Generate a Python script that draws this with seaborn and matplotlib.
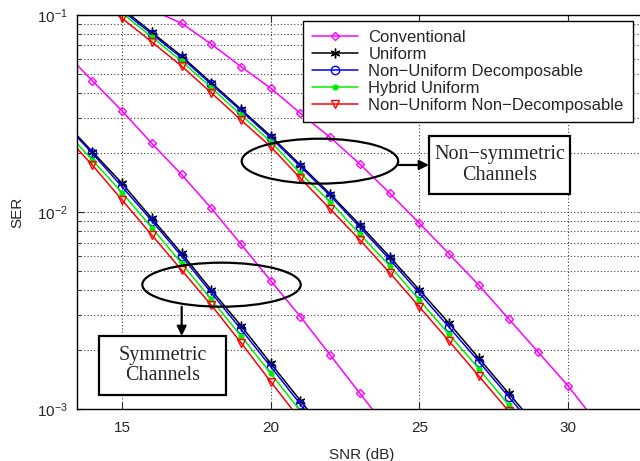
import matplotlib
matplotlib.use("Agg")
import matplotlib.pyplot as plt
import seaborn as sns
from matplotlib.patches import Ellipse, Rectangle
from matplotlib.ticker import NullLocator, LogLocator

# ---- data (SER vs SNR) ----
snr_conv_sym = [13, 14, 15, 16, 17, 18, 19, 20, 21, 22, 23, 24]
conv_sym = [0.0664, 0.0464, 0.0326, 0.0223, 0.0155, 0.01045, 0.00686,
            0.00448, 0.00294, 0.00188, 0.00120, 0.00077]

snr_conv_nonsym = [16, 17, 18, 19, 20, 21, 22, 23, 24, 25, 26, 27, 28, 29, 30, 31]
conv_nonsym = [0.106, 0.0908, 0.0712, 0.0547, 0.0425, 0.0317, 0.0239, 0.0175,
               0.01245, 0.00877, 0.00612, 0.00425, 0.00287, 0.00194, 0.00131, 0.00084]

snr_sym = [13, 14, 15, 16, 17, 18, 19, 20, 21, 22]
uni_sym = [0.0293, 0.02024, 0.01398, 0.00929, 0.00617, 0.00402, 0.00265, 0.001706, 0.001102, 0.000713]
nud_sym = [0.0288, 0.01986, 0.01344, 0.00903, 0.00598, 0.00389, 0.00254, 0.00164, 0.001057, 0.00068]
hyb_sym = [0.0267, 0.01836, 0.01253, 0.00832, 0.00549, 0.00360, 0.002348, 0.001518, 0.000977, 0.00063]
nund_sym = [0.0252, 0.01732, 0.01151, 0.00764, 0.00508, 0.00337, 0.00217, 0.001376, 0.00088, 0.00056]

snr_nonsym = [14, 15, 16, 17, 18, 19, 20, 21, 22, 23, 24, 25, 26, 27, 28, 29]
uni_nonsym = [0.125, 0.1079, 0.0817, 0.0619, 0.0453, 0.03321, 0.02431, 0.01732, 0.01234,
              0.00859, 0.00593, 0.00402, 0.00272, 0.00181, 0.001202, 0.000801]
nud_nonsym = [0.123, 0.1054, 0.0801, 0.0607, 0.0445, 0.03267, 0.02383, 0.01698, 0.01210,
              0.00836, 0.00575, 0.00387, 0.00260, 0.00174, 0.001155, 0.000764]
hyb_nonsym = [0.121, 0.1023, 0.0773, 0.0584, 0.0428, 0.0311, 0.02275, 0.01572, 0.01128,
              0.00770, 0.00534, 0.00357, 0.00239, 0.00160, 0.001048, 0.000688]
nund_nonsym = [0.126, 0.0962, 0.0730, 0.0551, 0.0403, 0.0293, 0.02146, 0.01483, 0.01036,
               0.00721, 0.00492, 0.00330, 0.00221, 0.00147, 0.000977, 0.00065]

sns.set_style("ticks")
plt.rcParams["font.family"] = ["Liberation Sans", "DejaVu Sans"]

fig = plt.figure(figsize=(6.4, 4.61), dpi=100)
ax = fig.add_axes([0.1203, 0.1128, 0.889, 0.8547])

styles = [
    ("Conventional", "#ff00ff", "D", 4.5, "none", [(snr_conv_sym, conv_sym), (snr_conv_nonsym, conv_nonsym)]),
    ("Uniform", "black", (6, 2, 0), 7, "black", [(snr_sym, uni_sym), (snr_nonsym, uni_nonsym)]),
    ("Non\u2212Uniform Decomposable", "#0000ff", "o", 6, "none", [(snr_sym, nud_sym), (snr_nonsym, nud_nonsym)]),
    ("Hybrid Uniform", "#00f000", "o", 3.5, "#00f000", [(snr_sym, hyb_sym), (snr_nonsym, hyb_nonsym)]),
    ("Non\u2212Uniform Non\u2212Decomposable", "#ff0000", "v", 6, "none", [(snr_sym, nund_sym), (snr_nonsym, nund_nonsym)]),
]

handles = []
for name, col, mk, ms, mfc, curves in styles:
    for i, (xs, ys) in enumerate(curves):
        sns.lineplot(x=xs, y=ys, ax=ax, color=col, marker=mk, markersize=ms,
                     mfc=mfc, mec=col, mew=1.0, lw=1.1, legend=False)
        if i == 0:
            line = ax.lines[-1]
            line.set_label(name)
            handles.append(line)

ax.set_yscale("log")
ax.set_xlim(13.485, 32.62)
ax.set_ylim(1e-3, 1e-1)
ax.set_xticks([15, 20, 25, 30])
ax.xaxis.set_minor_locator(NullLocator())
ax.yaxis.set_minor_locator(LogLocator(base=10, subs=range(2, 10)))

ax.grid(True, which="major", linestyle=(0, (1, 2)), color="0.25", lw=0.8)
ax.grid(True, which="minor", axis="y", linestyle=(0, (1, 2)), color="0.25", lw=0.8)
ax.tick_params(which="both", direction="in", top=True, right=True, labelsize=11)
ax.tick_params(which="major", length=5, width=0.8)
ax.tick_params(which="minor", length=3, width=0.6)
ax.tick_params(axis="x", pad=9)
ax.tick_params(axis="y", pad=7)
for s in ax.spines.values():
    s.set_linewidth(1.0)
    s.set_color("black")

ax.set_xlabel("SNR (dB)", fontsize=11, labelpad=9)
ax.set_ylabel("SER", fontsize=11, labelpad=9)

leg = ax.legend(handles=handles, loc="upper right", bbox_to_anchor=(0.977, 0.985),
                borderaxespad=0, fontsize=12, frameon=True, fancybox=False,
                framealpha=1, edgecolor="black", labelspacing=0.12,
                handlelength=2.8, handletextpad=0.6, borderpad=0.55)
leg.get_frame().set_linewidth(1.0)

# annotations (axes fraction)
serif = ["Liberation Serif", "DejaVu Serif"]
ax.add_patch(Ellipse((0.427, 0.629), 0.275, 0.114, transform=ax.transAxes,
                     fill=False, ec="black", lw=1.6, zorder=5))
ax.add_patch(Rectangle((0.6186, 0.5457), 0.2478, 0.1472, transform=ax.transAxes,
                       fc="white", ec="black", lw=1.6, zorder=5))
ax.text(0.7425, 0.6193, "Non\u2212symmetric\nChannels", transform=ax.transAxes,
        ha="center", va="center", fontsize=14.5, family=serif, linespacing=1.1, zorder=6)
ax.annotate("", xy=(0.6186, 0.6193), xytext=(0.5647, 0.6193),
            xycoords="axes fraction", textcoords="axes fraction",
            arrowprops=dict(arrowstyle="-|>", color="black", lw=1.6,
                            mutation_scale=14, shrinkA=0, shrinkB=0), zorder=6)

ax.add_patch(Ellipse((0.254, 0.3155), 0.2784, 0.1117, transform=ax.transAxes,
                     fill=False, ec="black", lw=1.6, zorder=5))
ax.add_patch(Rectangle((0.0389, 0.0355), 0.2233, 0.1498, transform=ax.transAxes,
                       fc="white", ec="black", lw=1.6, zorder=5))
ax.text(0.1511, 0.1104, "Symmetric\nChannels", transform=ax.transAxes,
        ha="center", va="center", fontsize=14.5, family=serif, linespacing=1.1, zorder=6)
ax.annotate("", xy=(0.184, 0.1853), xytext=(0.184, 0.2596),
            xycoords="axes fraction", textcoords="axes fraction",
            arrowprops=dict(arrowstyle="-|>", color="black", lw=1.6,
                            mutation_scale=14, shrinkA=0, shrinkB=0), zorder=6)

fig.savefig("out.png", dpi=100)
